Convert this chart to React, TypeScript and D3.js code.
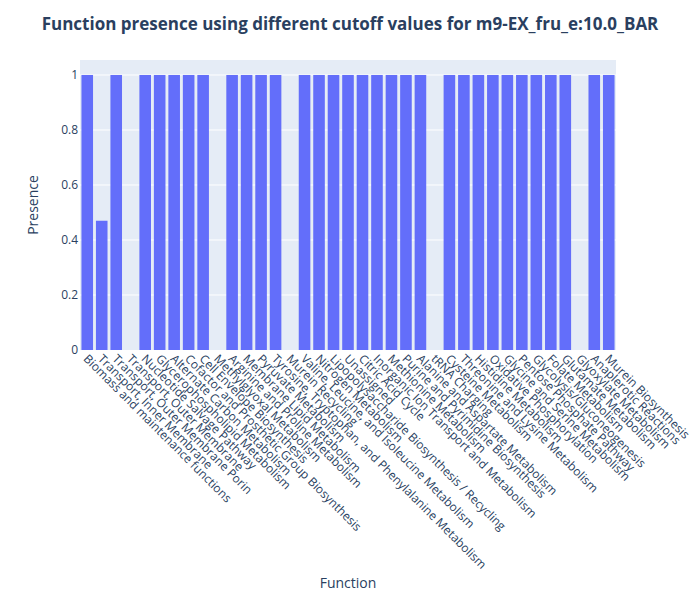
import * as d3 from "d3";

const categories = [
  "Biomass and maintenance functions",
  "Transport, Inner Membrane",
  "Transport, Outer Membrane Porin",
  "Transport, Outer Membrane",
  "Nucleotide Salvage Pathway",
  "Glycerophospholipid Metabolism",
  "Alternate Carbon Metabolism",
  "Cofactor and Prosthetic Group Biosynthesis",
  "Cell Envelope Biosynthesis",
  "Methylglyoxal Metabolism",
  "Arginine and Proline Metabolism",
  "Membrane Lipid Metabolism",
  "Pyruvate Metabolism",
  "Tyrosine, Tryptophan, and Phenylalanine Metabolism",
  "Murein Recycling",
  "Valine, Leucine, and Isoleucine Metabolism",
  "Nitrogen Metabolism",
  "Lipopolysaccharide Biosynthesis / Recycling",
  "Unassigned",
  "Citric Acid Cycle",
  "Inorganic Ion Transport and Metabolism",
  "Methionine Metabolism",
  "Purine and Pyrimidine Biosynthesis",
  "Alanine and Aspartate Metabolism",
  "tRNA Charging",
  "Cysteine Metabolism",
  "Threonine and Lysine Metabolism",
  "Histidine Metabolism",
  "Oxidative Phosphorylation",
  "Glycine and Serine Metabolism",
  "Pentose Phosphate Pathway",
  "Glycolysis/Gluconeogenesis",
  "Folate Metabolism",
  "Glutamate Metabolism",
  "Glyoxylate Metabolism",
  "Anaplerotic Reactions",
  "Murein Biosynthesis",
];

const presence = [
  1, 0.47, 1, 0, 1, 1, 1, 1, 1, 0, 1, 1, 1, 1, 0, 1, 1, 1, 1, 1, 1, 1, 1, 1, 0,
  1, 1, 1, 1, 1, 1, 1, 1, 1, 0, 1, 1,
];

const yTicks = [0, 0.2, 0.4, 0.6, 0.8, 1];

const W = 700;
const H = 600;
const m = { left: 80, right: 84, top: 60, bottom: 250 };
const font = "'Open Sans', Arial, sans-serif";
const textColor = "#2a3f5f";

export default function App() {
  const x = d3
    .scaleBand<string>()
    .domain(categories)
    .range([m.left, W - m.right])
    .paddingInner(0.2)
    .paddingOuter(0.1);
  const y = d3.scaleLinear().domain([0, 1.0545]).range([H - m.bottom, m.top]);

  return (
    <svg width={W} height={H} style={{ position: "absolute", left: 0, top: 0, fontFamily: font }}>
      <rect width={W} height={H} fill="#fff" />
      <rect x={m.left} y={m.top} width={W - m.left - m.right} height={H - m.top - m.bottom} fill="#e5ecf6" />
      {yTicks.map((t) => (
        <g key={t}>
          {t > 0 && (
            <line x1={m.left} x2={W - m.right} y1={y(t)} y2={y(t)} stroke="#fff" strokeWidth={1} />
          )}
          <text x={m.left - 2} y={y(t)} dy="0.35em" textAnchor="end" fontSize={12} fill={textColor}>
            {d3.format("~g")(t)}
          </text>
        </g>
      ))}
      {categories.map((c, i) => (
        <rect
          key={c}
          x={x(c)}
          y={y(presence[i])}
          width={x.bandwidth()}
          height={y(0) - y(presence[i])}
          fill="#636efa"
        />
      ))}
      {categories.map((c) => {
        const cx = (x(c) ?? 0) + x.bandwidth() / 2;
        const cy = H - m.bottom + 8;
        return (
          <text
            key={c}
            transform={`translate(${cx},${cy}) rotate(45)`}
            fontSize={12}
            fill={textColor}
            dy="0.35em"
            dx="-2"
          >
            {c}
          </text>
        );
      })}
      <text x={W / 2} y={30} textAnchor="middle" fontSize={17} fontWeight="bold" fill={textColor}>
        Function presence using different cutoff values for m9-EX_fru_e:10.0_BAR
      </text>
      <text
        transform={`translate(38,${(m.top + H - m.bottom) / 2}) rotate(-90)`}
        textAnchor="middle"
        fontSize={14}
        fill={textColor}
      >
        Presence
      </text>
      <text x={(m.left + W - m.right) / 2} y={588} textAnchor="middle" fontSize={14} fill={textColor}>
        Function
      </text>
    </svg>
  );
}
